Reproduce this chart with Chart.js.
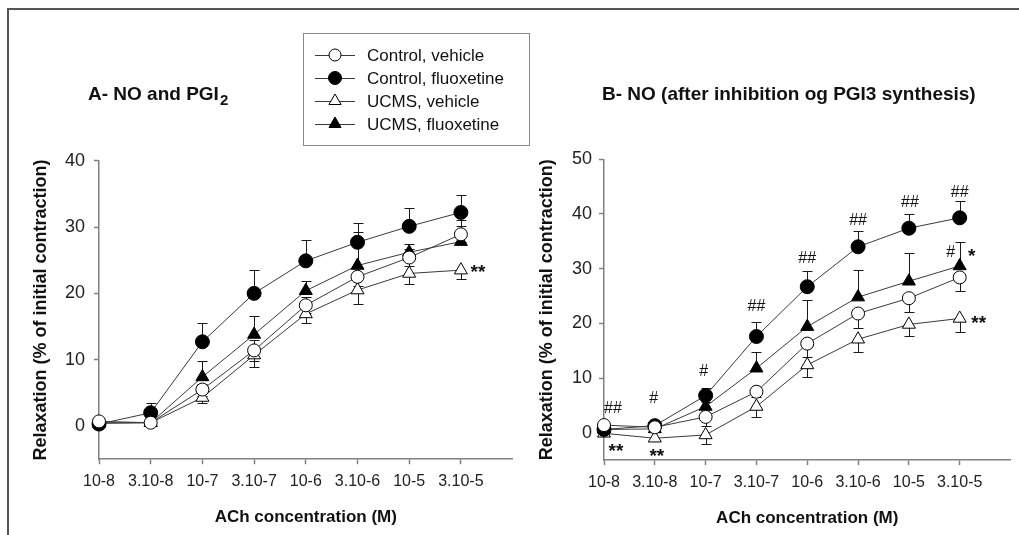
<!DOCTYPE html>
<html><head><meta charset="utf-8">
<script src="https://cdn.jsdelivr.net/npm/chart.js@4/dist/chart.umd.min.js"></script>
<style>
html,body{margin:0;padding:0;background:#fff;}
body{width:1019px;height:535px;position:relative;overflow:hidden;}
#frame{position:absolute;left:7px;top:8px;width:1100px;height:600px;border-left:2px solid #555;border-top:2px solid #555;}
#cA{position:absolute;left:0;top:0;}
#cB{position:absolute;left:520px;top:0;}
</style></head><body>
<div id="frame"></div>
<canvas id="cA" width="530" height="535"></canvas>
<canvas id="cB" width="499" height="535"></canvas>
<script>
// ---- data ----
const concentrations = ['10-8','3.10-8','10-7','3.10-7','10-6','3.10-6','10-5','3.10-5'];
const seriesNames = ['Control, vehicle','Control, fluoxetine','UCMS, vehicle','UCMS, fluoxetine'];

// Panel A
const ctrlVehA   = [0.7, 0.5, 5.5, 11.4, 18.2, 22.5, 25.4, 28.9];
const ctrlVehAErr= [0.3, 0.3, 0.9, 1.6, 1.2, 1.4, 1.3, 1.2];
const ctrlFluA   = [0.3, 2.0, 12.7, 20.0, 24.9, 27.7, 30.1, 32.2];
const ctrlFluAErr= [0.3, 1.4, 2.8, 3.5, 3.1, 2.9, 2.8, 2.6];
const ucmsVehA   = [0.5, 0.5, 4.3, 10.7, 16.9, 20.5, 23.0, 23.5];
const ucmsVehAErr= [0.3, 0.2, 0.9, 1.8, 1.4, 2.1, 1.6, 1.4];
const ucmsFluA   = [0.4, 0.5, 7.4, 13.8, 20.4, 24.2, 26.2, 27.8];
const ucmsFluAErr= [0.3, 0.3, 2.4, 2.8, 1.5, 5.0, 1.3, 3.2];

// Panel B
const ctrlVehB   = [1.4, 1.0, 2.9, 7.5, 16.3, 21.8, 24.6, 28.4];
const ctrlVehBErr= [0.3, 0.3, 1.6, 1.0, 2.4, 2.7, 2.6, 2.5];
const ctrlFluB   = [0.6, 1.3, 6.8, 17.6, 26.7, 34.0, 37.4, 39.3];
const ctrlFluBErr= [0.3, 0.4, 1.4, 2.6, 2.9, 2.8, 2.6, 3.0];
const ucmsVehB   = [-0.1, -1.0, -0.4, 4.8, 12.4, 17.1, 19.8, 20.9];
const ucmsVehBErr= [0.2, 0.3, 1.6, 2.0, 2.2, 2.3, 2.1, 2.5];
const ucmsFluB   = [0.6, 0.7, 4.8, 11.8, 19.4, 24.8, 27.7, 30.5];
const ucmsFluBErr= [0.3, 0.3, 0.8, 3.0, 4.9, 5.0, 5.1, 4.3];

// significance marks: [text, concentration index, value]
const marksA = [['**', 7, 23.7]];
const marksB = [['##',0,4.5],['**',0,-2.8],['#',1,6.3],['**',1,-3.7],['#',2,11.1],
  ['##',3,23.1],['##',4,31.9],['##',5,38.8],['##',6,42.1],['##',7,44.0],
  ['#',7,32.9],['*',7,32.9],['**',7,20.6]];

const yTicksA = {min:-5, max:40, step:10};
const yTicksB = {min:-5, max:50, step:10};

// ---- styles ----
const FAM = "'Liberation Sans', Arial, sans-serif";
const AXIS = '#808080';
const LINE = '#3a3a3a';
const styles = [
  {pointStyle:'circle', radius:6.5, fill:'#ffffff'},
  {pointStyle:'circle', radius:7, fill:'#000000'},
  {pointStyle:'triangle', radius:7.5, fill:'#ffffff'},
  {pointStyle:'triangle', radius:7.5, fill:'#000000'}
];

function markerPath(ctx, style, x, y, r){
  ctx.beginPath();
  if(style==='circle'){ ctx.arc(x,y,r,0,Math.PI*2); }
  else {
    let a=0;
    ctx.moveTo(x+Math.sin(a)*r, y-Math.cos(a)*r); a+=2*Math.PI/3;
    ctx.lineTo(x+Math.sin(a)*r, y-Math.cos(a)*r); a+=2*Math.PI/3;
    ctx.lineTo(x+Math.sin(a)*r, y-Math.cos(a)*r);
    ctx.closePath();
  }
}

const extras = {
  id:'panelExtras',
  beforeDatasetsDraw(chart){
    const ctx=chart.ctx, ys=chart.scales.y;
    ctx.save();
    ctx.strokeStyle='#1a1a1a'; ctx.lineWidth=1;
    chart.data.datasets.forEach((ds,di)=>{
      const meta=chart.getDatasetMeta(di);
      meta.data.forEach((pt,i)=>{
        const v=ds.data[i], e=ds.errors[i];
        const ends=[];
        if(ds.errDir==='up'||ds.errDir==='both') ends.push(v+e);
        if(ds.errDir==='down'||ds.errDir==='both') ends.push(v-e);
        ends.forEach(t=>{
          const py=Math.round(ys.getPixelForValue(t))+0.5, x=Math.round(pt.x)+0.5;
          ctx.beginPath(); ctx.moveTo(x,pt.y); ctx.lineTo(x,py);
          ctx.moveTo(x-5,py); ctx.lineTo(x+5,py); ctx.stroke();
        });
      });
    });
    ctx.restore();
  },
  afterDatasetsDraw(chart,args,opts){
    const ctx=chart.ctx, xs=chart.scales.x, ys=chart.scales.y;
    ctx.save();
    ctx.fillStyle='#111'; ctx.textAlign='center'; ctx.textBaseline='middle';
    (opts.marks||[]).forEach((m,k)=>{
      const [txt,idx,val]=m;
      const off=(opts.offsets||[])[k]||0;
      const star = txt.indexOf('*')>=0;
      ctx.font = star ? 'bold 19px '+FAM : '16px '+FAM;
      ctx.fillText(txt, xs.getPixelForValue(idx)+off, ys.getPixelForValue(val)+(star?4:0));
    });
    ctx.restore();
  },
  afterDraw(chart,args,opts){
    const ctx=chart.ctx;
    ctx.save();
    ctx.fillStyle='#111'; ctx.textBaseline='middle'; ctx.textAlign='left';
    if(opts.title){
      const t=opts.title;
      ctx.font='bold 19px '+FAM;
      ctx.fillText(t.text, t.x, t.y);
      if(t.sub){
        const w=ctx.measureText(t.text).width;
        ctx.font='bold 15px '+FAM;
        ctx.fillText(t.sub, t.x+w+1, t.y+6);
      }
    }
    if(opts.legend){
      const L=opts.legend;
      ctx.strokeStyle='#8a8a8a'; ctx.lineWidth=1;
      ctx.strokeRect(L.x+0.5, L.y+0.5, L.w, L.h);
      seriesNames.forEach((name,i)=>{
        const yy=L.y+L.row0+i*L.gap;
        ctx.strokeStyle=LINE; ctx.lineWidth=1;
        ctx.beginPath(); ctx.moveTo(L.x+12,yy+0.5); ctx.lineTo(L.x+52,yy+0.5); ctx.stroke();
        const s=styles[i];
        markerPath(ctx,s.pointStyle,L.x+32,yy,s.radius-0.5);
        ctx.fillStyle=s.fill; ctx.fill(); ctx.strokeStyle='#000'; ctx.stroke();
        ctx.fillStyle='#111'; ctx.font='17px '+FAM;
        ctx.fillText(name, L.x+64, yy+1);
      });
    }
    ctx.restore();
  }
};

function buildDatasets(vals, errs, dirs){
  return vals.map((v,i)=>({
    label: seriesNames[i], data: v, errors: errs[i], errDir: dirs[i],
    borderColor: LINE, borderWidth: 1, tension: 0, fill:false, clip:false,
    pointStyle: styles[i].pointStyle, pointRadius: styles[i].radius,
    pointBackgroundColor: styles[i].fill, pointBorderColor:'#000', pointBorderWidth:1
  }));
}

function makeChart(el, p){
  return new Chart(el, {
    type:'line',
    data:{labels:[...concentrations, ''], datasets: buildDatasets(p.vals, p.errs, p.dirs)},
    plugins:[extras],
    options:{
      responsive:false, animation:false, devicePixelRatio:1,
      layout:{padding:{left:0, top:p.top, right:p.right, bottom:p.bottom}},
      plugins:{legend:{display:false}, tooltip:{enabled:false},
        panelExtras:{marks:p.marks, offsets:p.offsets, title:p.title, legend:p.legend}},
      scales:{
        x:{type:'category', offset:false,
          afterFit(s){ s.height=70; },
          grid:{drawOnChartArea:false, drawTicks:true, tickLength:5, tickWidth:1.5,
            tickColor:(c)=> c.index>=concentrations.length ? 'rgba(0,0,0,0)' : AXIS},
          border:{color:AXIS, width:1.5},
          ticks:{autoSkip:false, maxRotation:0, minRotation:0, padding:8, color:'#222', font:{family:FAM, size:16}},
          title:{display:true, text:'ACh concentration (M)', color:'#111',
            font:{family:FAM, size:17, weight:'bold'}, padding:{top:0,bottom:2}}
        },
        y:{min:p.yt.min, max:p.yt.max,
          afterFit(s){ s.width=p.yw; },
          grid:{drawOnChartArea:false, drawTicks:true, tickLength:5, tickWidth:1.5, tickColor:AXIS},
          border:{color:AXIS, width:1.5},
          ticks:{stepSize:p.yt.step, includeBounds:false, padding:p.tickPad, color:'#222', font:{family:FAM, size:18}},
          title:{display:true, text:'Relaxation (% of initial contraction)', color:'#111',
            font:{family:FAM, size:18, weight:'bold'}, padding:{top:p.titlePad, bottom:0}}
        }
      }
    }
  });
}

makeChart(document.getElementById('cA'), {
  vals:[ctrlVehA, ctrlFluA, ucmsVehA, ucmsFluA],
  errs:[ctrlVehAErr, ctrlFluAErr, ucmsVehAErr, ucmsFluAErr],
  dirs:['both','up','down','up'],
  yt:yTicksA, yw:99, tickPad:9, titlePad:30,
  top:160.7, right:17.4, bottom:5.8,
  marks:marksA, offsets:[17],
  title:{text:'A- NO and PGI', sub:'2', x:88, y:95},
  legend:{x:303, y:33, w:226, h:112, row0:22, gap:23}
});

makeChart(document.getElementById('cB'), {
  vals:[ctrlVehB, ctrlFluB, ucmsVehB, ucmsFluB],
  errs:[ctrlVehBErr, ctrlFluBErr, ucmsVehBErr, ucmsFluBErr],
  dirs:['down','up','down','up'],
  yt:yTicksB, yw:84, tickPad:7, titlePad:16,
  top:159.3, right:0, bottom:4.9,
  marks:marksB, offsets:[9,12,-1,2,-2,0,0,0,1,0,-9,12,19],
  title:{text:'B- NO (after inhibition og PGI3 synthesis)', x:82, y:95}
});
</script>
</body></html>
